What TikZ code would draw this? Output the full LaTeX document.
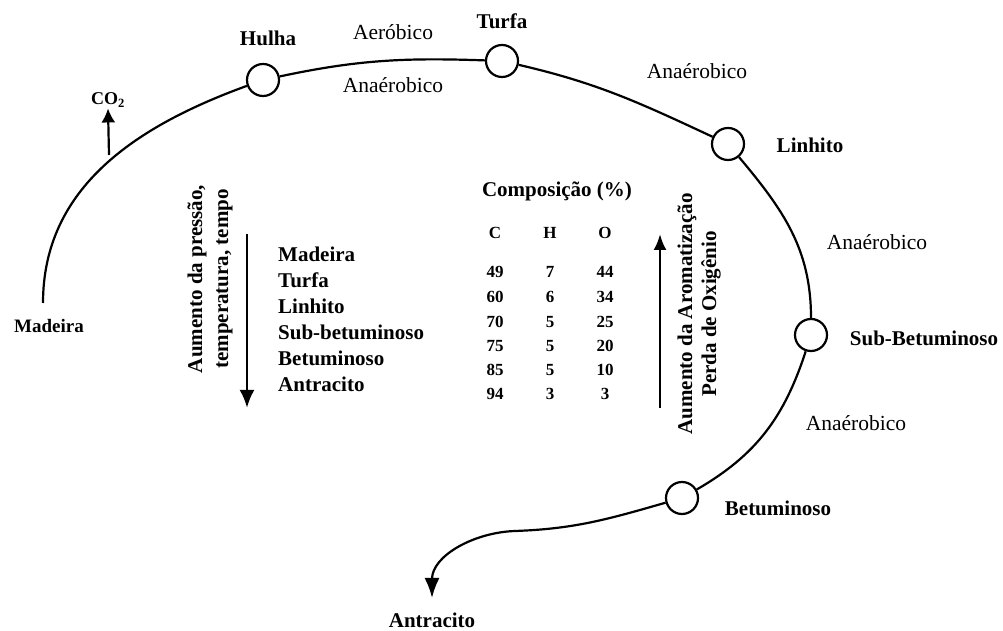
\documentclass[tikz,border=0pt]{standalone}
\usepackage{fontspec}
\setmainfont{Liberation Serif}
\usetikzlibrary{arrows.meta}

\begin{document}
\begin{tikzpicture}[x=1pt, y=1pt,
  est/.style={draw, circle, line width=2.2pt, minimum size=32pt, inner sep=0pt},
  nome/.style={font=\bfseries\fontsize{21}{25}\selectfont, inner sep=1pt},
  proc/.style={font=\fontsize{21.5}{25}\selectfont, inner sep=1pt},
  tab/.style={font=\bfseries\fontsize{17}{19}\selectfont, inner sep=0pt},
  curva/.style={line width=2.2pt},
  seta/.style={line width=2.8pt, -{Latex[length=18pt, width=15pt]}}]
  \useasboundingbox (0,0) rectangle (1003,631);

  % estados do carvao
  \node[est] (hulha)  at (263, 551) {};
  \node[est] (turfa)  at (502, 570) {};
  \node[est] (linh)   at (728, 487) {};
  \node[est] (subbet) at (811, 296) {};
  \node[est] (betum)  at (682, 133) {};
  \coordinate (inicio) at (43, 328);
  \coordinate (dobra)  at (515, 100);
  \coordinate (fim)    at (432, 33);

  % curva
  \draw[curva] (inicio) to[out=90, in=200] (hulha);
  \draw[curva] (hulha) to[out=12, in=178] (turfa);
  \draw[curva] (turfa) to[out=-13, in=155] (linh);
  \draw[curva] (linh) to[out=-50, in=90] (subbet);
  \draw[curva] (subbet) to[out=-108, in=30] (betum);
  \draw[curva, -{Latex[length=20pt, width=15pt]}] (betum) to[out=196, in=2] (dobra) to[out=182, in=90] (fim);

  % nomes
  \node[nome] (nhulha)  at (268, 593) {Hulha};
  \node[nome] (nturfa)  at (502, 610) {Turfa};
  \node[nome] (nlinh)   at (810, 486) {Linhito};
  \node[nome] (nsubbet) at (924, 293) {Sub-Betuminoso};
  \node[nome] (nbetum)  at (778, 123) {Betuminoso};
  \node[nome, anchor=base] (nantr) at (432, 3) {Antracito};
  \node[nome, font=\bfseries\fontsize{19}{23}\selectfont] (nmad) at (49, 305) {Madeira};
  \node[nome, font=\bfseries\fontsize{18}{22}\selectfont] (co2) at (108, 531) {CO\textsubscript{2}};
  \coordinate (co2base) at (109, 476);
  \draw[seta, line width=2.2pt, -{Latex[length=14pt, width=14pt]}] (co2base) -- (co2.south);

  % processos
  \node[proc] (aer)  at (393, 599) {Aeróbico};
  \node[proc] (ana1) at (393, 546) {Anaérobico};
  \node[proc] (ana2) at (697, 560) {Anaérobico};
  \node[proc] (ana3) at (877, 389) {Anaérobico};
  \node[proc] (ana4) at (856, 208) {Anaérobico};

  % lado esquerdo
  \node[nome, rotate=90, align=center, font=\bfseries\fontsize{21}{26}\selectfont] (pressao) at (210, 352)
    {Aumento da pressão,\\temperatura, tempo};
  \coordinate (desce1) at (247, 397);
  \coordinate (desce2) at (247, 223);
  \draw[seta] (desce1) -- (desce2);
  \node[nome, anchor=north west, align=left, font=\bfseries\fontsize{21}{26}\selectfont] (lista) at (277, 385)
    {Madeira\\Turfa\\Linhito\\Sub-betuminoso\\Betuminoso\\Antracito};

  % tabela
  \node[nome] (comp) at (557, 440) {Composição (\%)};
  \node[tab] (tc) at (495, 398) {C};
  \node[tab] (th) at (550, 398) {H};
  \node[tab] (to) at (605, 398) {O};
  \foreach \c/\h/\o/\y in {49/7/44/359, 60/6/34/334, 70/5/25/309, 75/5/20/285, 85/5/10/261, 94/3/3/237} {
    \node[tab] (c\c) at (495, \y) {\c};
    \node[tab] (h\c) at (550, \y) {\h};
    \node[tab] (o\c) at (605, \y) {\o};
  }

  % lado direito
  \coordinate (sobe1) at (660, 223);
  \coordinate (sobe2) at (660, 397);
  \draw[seta, line width=2.6pt, -{Latex[length=16pt, width=13pt]}] (sobe1) -- (sobe2);
  \node[nome, rotate=90, align=center, font=\bfseries\fontsize{21}{24}\selectfont] (aromat) at (699, 317)
    {Aumento da Aromatização\\Perda de Oxigênio};
\end{tikzpicture}
\end{document}
